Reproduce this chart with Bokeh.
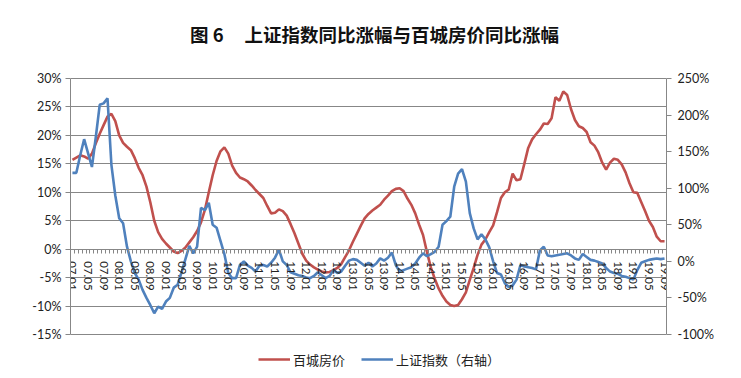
from bokeh.plotting import figure
from bokeh.models import Range1d, LinearAxis, FixedTicker, Legend, LegendItem, Label, ColumnDataSource
from bokeh.embed import file_html
from bokeh.resources import INLINE

# 百城房价同比 (%), monthly 2007.01 - 2019.09, left axis
house = [15.7, 16.1, 16.5, 16.3, 15.9, 16.8, 18.6, 20.3, 21.8, 23.3,
         23.8, 22.5, 20.0, 18.7, 18.0, 17.4, 16.0, 14.3, 13.0, 11.0,
         8.2, 5.0, 3.0, 1.8, 1.0, 0.3, -0.4, -0.7, -0.3, 0.3,
         1.2, 2.1, 3.2, 4.7, 6.9, 10.0, 13.0, 15.5, 17.2, 17.9,
         16.8, 14.7, 13.4, 12.6, 12.3, 11.9, 11.2, 10.4, 9.7, 9.0,
         7.6, 6.3, 6.4, 7.0, 6.7, 5.9, 4.4, 2.8, 1.0, -0.8,
         -2.0, -2.7, -3.2, -3.6, -3.9, -4.1, -4.0, -3.7, -3.3, -2.6,
         -1.4, -0.2, 1.3, 2.7, 4.1, 5.4, 6.2, 6.8, 7.3, 7.8,
         8.7, 9.4, 10.2, 10.6, 10.7, 10.2, 8.9, 7.8, 6.3, 4.3,
         2.5, -0.5, -3.2, -5.2, -6.9, -8.2, -9.2, -9.8, -10.0, -9.8,
         -8.8, -7.6, -5.4, -3.3, -1.0, 0.8, 1.7, 3.0, 4.2, 6.5,
         9.0, 10.0, 10.5, 13.3, 12.1, 12.3, 15.0, 17.8, 19.3, 20.2,
         21.0, 22.1, 22.0, 23.0, 26.7, 26.1, 27.7, 27.1, 24.6, 22.7,
         21.6, 21.3, 20.6, 18.8, 18.2, 17.0, 15.2, 14.0, 15.2, 15.9,
         15.7, 14.9, 13.5, 11.6, 10.0, 9.9, 8.3, 6.7, 5.0, 3.9,
         2.2, 1.4, 1.4]

# 上证指数同比 (%), right axis
stock = [121, 121, 145, 167, 148, 129, 170, 214, 216, 223,
         132, 90, 59, 52, 20, 0, -16, -25, -39, -50,
         -60, -71, -62, -65, -55, -50, -36, -32, -15, 3,
         21, 11, 20, 73, 70, 80, 50, 46, 28, 10,
         -16, -23, -23, -5, 0, -6, -9, -14, -6, -5,
         -7, -2, 5, 16, 0, -5, -15, -17, -19, -20,
         -22, -23, -20, -15, -19, -23, -20, -12, -16, -14,
         -6, 1, 3, 2, -2, -6, -2, -7, -3, 4,
         1, 5, 12, -5, -14, -12, -10, -8, -3, 5,
         11, 7, 10, 13, 20, 50, 55, 61, 102, 120,
         126, 109, 66, 45, 30, 37, 30, 19, 0, -16,
         -18, -30, -35, -33, -25, -5, -7, -8, -9, -11,
         15, 20, 8, 7, 8, 9, 10, 11, 8, 4,
         2, 10, 6, 2, 1, -1, -3, -9, -14, -16,
         -17, -20, -21, -23, -25, -12, -2, 0, 2, 3,
         4, 3, 4]

month_idx = list(range(len(house)))

x_labels = ["07.01", "07.05", "07.09", "08.01", "08.05", "08.09", "09.01", "09.05", "09.09",
            "10.01", "10.05", "10.09", "11.01", "11.05", "11.09", "12.01", "12.05", "12.09",
            "13.01", "13.05", "13.09", "14.01", "14.05", "14.09", "15.01", "15.05", "15.09",
            "16.01", "16.05", "16.09", "17.01", "17.05", "17.09", "18.01", "18.05", "18.09",
            "19.01", "19.05", "19.09"]
label_pos = [i * 4 for i in range(len(x_labels))]

left_ticks = [-15, -10, -5, 0, 5, 10, 15, 20, 25, 30]
right_ticks = [-100, -50, 0, 50, 100, 150, 200, 250]

TITLE = "图 6\u00a0\u00a0\u00a0\u00a0\u00a0上证指数同比涨幅与百城房价同比涨幅"

RED = "#C0504D"
BLUE = "#4F81BD"
GRID = "#878787"
FONT = "Lato"

src = ColumnDataSource(dict(x=month_idx, house=house, stock=stock))

# the frame spans y=0..375 of the page; the value axes only cover -15..30 / -100..250
# (drawn at y=78..334), the extra room above holds the title, below it the legend
p = figure(width=741, height=378, output_backend="svg", toolbar_location=None,
           x_range=Range1d(-0.5, len(house) - 0.5), y_range=Range1d(-22.2, 43.71),
           min_border_left=70, min_border_right=75, min_border_top=0, min_border_bottom=3)
p.extra_y_ranges = {"right": Range1d(-156.1, 356.64)}
p.outline_line_color = None
p.background_fill_color = "white"
p.border_fill_color = "white"

# title
p.add_layout(Label(x=304, y=342, x_units="screen", y_units="screen", text=TITLE,
                   text_align="center", text_baseline="middle",
                   text_font="Noto Sans CJK SC", text_font_size="18.5px",
                   text_font_style="bold", text_color="#111111"))

# grid
p.xgrid.visible = False
p.ygrid.ticker = FixedTicker(ticks=left_ticks)
p.ygrid.bounds = (-15, 30)
p.ygrid.grid_line_color = GRID
p.ygrid.grid_line_width = 1

# left axis
ya = p.yaxis[0]
ya.bounds = (-15, 30)
ya.ticker = FixedTicker(ticks=left_ticks)
ya.major_label_overrides = {v: f"{v}%" for v in left_ticks}
ya.axis_line_color = GRID
ya.major_tick_line_color = GRID
ya.major_tick_out = 5
ya.major_tick_in = 0
ya.minor_tick_line_color = None
ya.major_label_standoff = 4
ya.major_label_text_font = FONT
ya.major_label_text_font_size = "12.5px"
ya.major_label_text_color = "#222222"

# right axis
ra = LinearAxis(y_range_name="right", bounds=(-100, 250))
ra.ticker = FixedTicker(ticks=right_ticks)
ra.major_label_overrides = {v: f"{v}%" for v in right_ticks}
ra.axis_line_color = GRID
ra.major_tick_line_color = GRID
ra.major_tick_out = 5
ra.major_tick_in = 0
ra.minor_tick_line_color = None
ra.major_label_standoff = 6
ra.major_label_text_font = FONT
ra.major_label_text_font_size = "12.5px"
ra.major_label_text_color = "#222222"
p.add_layout(ra, "right")

# x axis at 0%
xa = p.xaxis[0]
xa.fixed_location = 0
xa.ticker = FixedTicker(ticks=label_pos,
                        minor_ticks=[i - 0.5 for i in range(len(house) + 1)])
xa.major_label_overrides = {pos: lab for pos, lab in zip(label_pos, x_labels)}
xa.major_label_orientation = "vertical"
xa.axis_line_color = GRID
xa.major_tick_line_color = None
xa.minor_tick_line_color = GRID
xa.minor_tick_out = 4
xa.minor_tick_in = 0
xa.major_label_standoff = 6
xa.major_label_text_font = FONT
xa.major_label_text_font_size = "11.5px"
xa.major_label_text_color = "#222222"

r1 = p.line("x", "house", source=src, line_color=RED, line_width=2.6)
r2 = p.line("x", "stock", source=src, y_range_name="right", line_color=BLUE, line_width=2.6)

legend = Legend(items=[LegendItem(label="百城房价", renderers=[r1]),
                       LegendItem(label="上证指数（右轴）", renderers=[r2])],
                location=(188, 6), orientation="horizontal",
                label_text_font="Noto Sans CJK SC", label_text_font_size="13px",
                label_text_color="#222222", glyph_width=32, label_standoff=3,
                spacing=16, background_fill_alpha=0, border_line_color=None,
                padding=0, margin=0)
p.add_layout(legend)

open("out.html", "w").write(file_html(p, INLINE))
